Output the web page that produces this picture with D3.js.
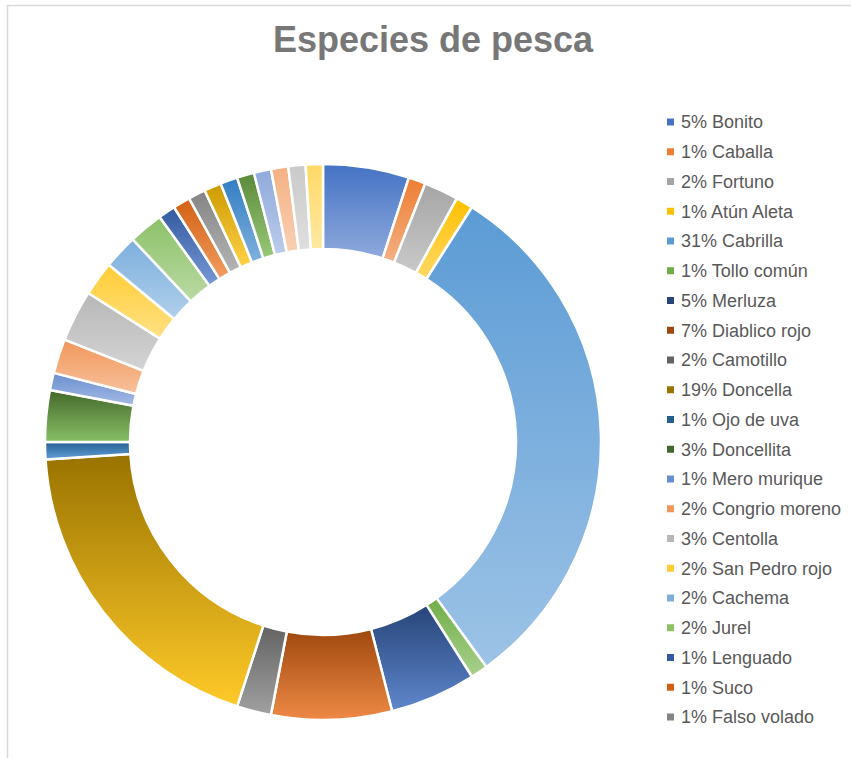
<!DOCTYPE html>
<html>
<head>
<meta charset="utf-8">
<script src="https://cdnjs.cloudflare.com/ajax/libs/d3/7.8.5/d3.min.js"></script>
<style>
  html, body { margin: 0; padding: 0; background: #ffffff; }
  svg { display: block; font-family: "Liberation Sans", Arial, sans-serif; }
</style>
</head>
<body>
<svg id="chart" width="851" height="758"></svg>
<script>
// Catch by species (share of the total, %)
const species = [
  "Bonito", "Caballa", "Fortuno", "Atún Aleta", "Cabrilla", "Tollo común",
  "Merluza", "Diablico rojo", "Camotillo", "Doncella", "Ojo de uva", "Doncellita",
  "Mero murique", "Congrio moreno", "Centolla", "San Pedro rojo", "Cachema", "Jurel",
  "Lenguado", "Suco", "Falso volado",
  "Especie 22", "Especie 23", "Especie 24", "Especie 25", "Especie 26", "Especie 27", "Especie 28"
];
const shares = [
  5, 1, 2, 1, 31, 1,
  5, 7, 2, 19, 1, 3,
  1, 2, 3, 2, 2, 2,
  1, 1, 1,
  1, 1, 1, 1, 1, 1, 1
];
const chartTitle = "Especies de pesca";

// Office-style palette: six accents, then darker / lighter variants of each
const accents = ["#4472C4", "#ED7D31", "#A5A5A5", "#FFC000", "#5B9BD5", "#70AD47"];
function lum(hex, mod, off) {
  const c = d3.hsl(hex);
  c.l = Math.min(1, c.l * mod + off);
  return c.formatHex();
}
const variants = [[1, 0], [0.6, 0], [0.8, 0.2], [0.8, 0], [0.6, 0.4], [0.5, 0]];
function seriesColor(i) {
  const v = variants[Math.floor(i / accents.length) % variants.length];
  return lum(accents[i % accents.length], v[0], v[1]);
}

const svg = d3.select("#chart");
const W = 851, H = 758;

// chart area frame
svg.append("rect")
  .attr("x", 7.5).attr("y", 5.5)
  .attr("width", 1000).attr("height", 1000)
  .attr("fill", "#ffffff")
  .attr("stroke", "#d9d9d9").attr("stroke-width", 1.5);

// title
svg.append("text")
  .attr("x", 433).attr("y", 52)
  .attr("text-anchor", "middle")
  .attr("font-size", 36).attr("font-weight", "bold")
  .attr("fill", "#777777")
  .text(chartTitle);

const cx = 323, cy = 442, rOuter = 278, rInner = 193;
const total = d3.sum(shares);
const data = species.map((name, i) => ({ name, value: shares[i], color: seriesColor(i) }));

const pie = d3.pie().sort(null).value(d => d.value);
const arc = d3.arc().innerRadius(rInner).outerRadius(rOuter);
const arcs = pie(data);

// vertical gradient per slice: series colour at the top, lighter tint at the bottom
const defs = svg.append("defs");
arcs.forEach((a, i) => {
  const g = defs.append("linearGradient")
    .attr("id", "grad" + i)
    .attr("x1", 0).attr("y1", 0).attr("x2", 0).attr("y2", 1);
  g.append("stop").attr("offset", "0%").attr("stop-color", a.data.color);
  g.append("stop").attr("offset", "100%").attr("stop-color", lum(a.data.color, 0.6, 0.4));
});

svg.append("g")
  .attr("transform", `translate(${cx},${cy})`)
  .selectAll("path")
  .data(arcs)
  .join("path")
  .attr("d", arc)
  .attr("fill", (d, i) => `url(#grad${i})`)
  .attr("stroke", "#ffffff")
  .attr("stroke-width", 2.5)
  .attr("stroke-linejoin", "round");

// legend: as many rows as fit in the plot height
const legendX = 667, legendY0 = 122, rowH = 29.75;
const maxRows = Math.floor((H - 30 - legendY0) / rowH) + 1;
const fmt = v => Math.round(v / total * 100) + "% ";
const rows = svg.append("g")
  .selectAll("g")
  .data(data.slice(0, Math.min(maxRows, 21)))
  .join("g")
  .attr("transform", (d, i) => `translate(${legendX},${legendY0 + i * rowH})`);

rows.append("rect")
  .attr("x", 0).attr("y", -3.5)
  .attr("width", 7).attr("height", 7)
  .attr("fill", d => d.color);

rows.append("text")
  .attr("x", 14).attr("y", 0)
  .attr("dy", "0.35em")
  .attr("font-size", 18)
  .attr("fill", "#595959")
  .text(d => fmt(d.value) + d.name);
</script>
</body>
</html>
